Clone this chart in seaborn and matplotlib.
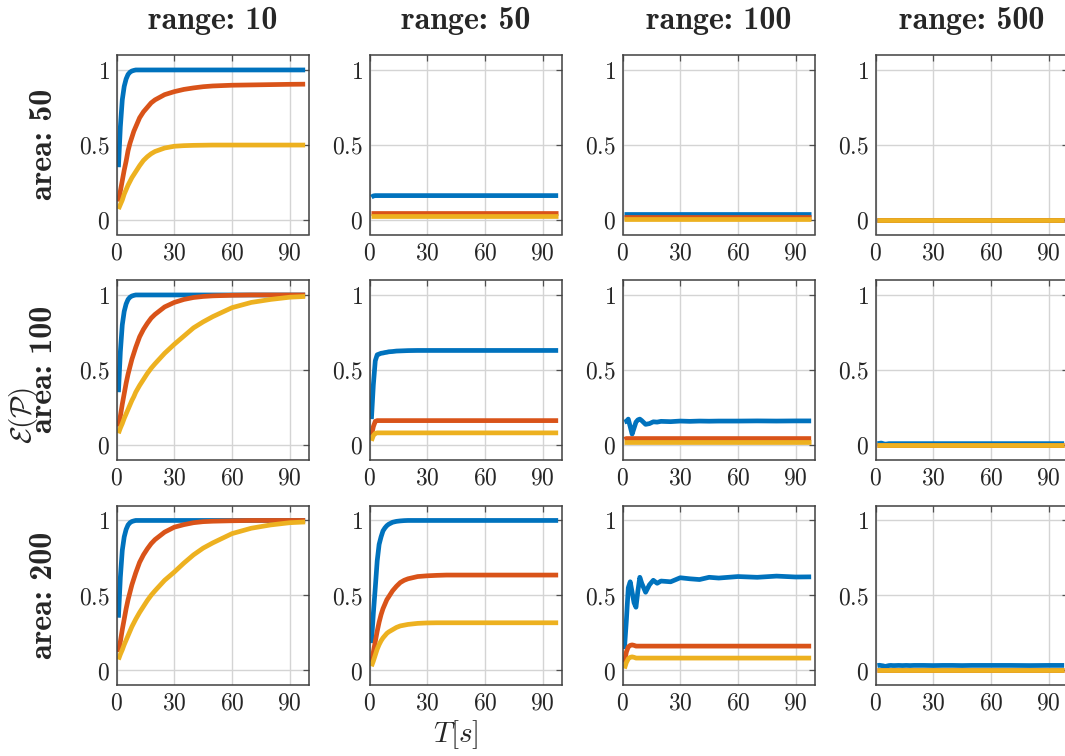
import matplotlib
matplotlib.use("Agg")
import matplotlib.pyplot as plt
import seaborn as sns
import pandas as pd

# time samples (s)
T = [1, 2, 3, 4, 5, 6, 7, 8, 9, 10, 12, 14, 16, 18, 20, 25, 30, 35, 40, 45, 50, 60, 70, 80, 90, 98]

ranges = [10, 50, 100, 500]
areas = [50, 100, 200]

# ---- area 50 ----
a50_r10_blue = [0.35, 0.62, 0.80, 0.89, 0.94, 0.97, 0.985, 0.993, 0.997, 1.0, 1.0, 1.0, 1.0, 1.0, 1.0, 1.0, 1.0, 1.0, 1.0, 1.0, 1.0, 1.0, 1.0, 1.0, 1.0, 1.0]
a50_r10_orange = [0.12, 0.19, 0.26, 0.33, 0.39, 0.46, 0.51, 0.55, 0.59, 0.62, 0.68, 0.72, 0.75, 0.78, 0.80, 0.835, 0.855, 0.87, 0.88, 0.888, 0.893, 0.898, 0.90, 0.902, 0.904, 0.905]
a50_r10_yellow = [0.07, 0.10, 0.13, 0.17, 0.20, 0.23, 0.255, 0.28, 0.30, 0.32, 0.36, 0.395, 0.42, 0.44, 0.455, 0.478, 0.49, 0.494, 0.496, 0.497, 0.498, 0.498, 0.498, 0.498, 0.498, 0.498]

a50_r50_blue = [0.15, 0.158, 0.16, 0.16, 0.16, 0.16, 0.16, 0.16, 0.16, 0.16, 0.16, 0.16, 0.16, 0.16, 0.16, 0.16, 0.16, 0.16, 0.16, 0.16, 0.16, 0.16, 0.16, 0.16, 0.16, 0.16]
a50_r50_orange = [0.045] * 26
a50_r50_yellow = [0.022] * 26

a50_r100_blue = [0.04] * 26
a50_r100_orange = [0.018] * 26
a50_r100_yellow = [0.005] * 26

a50_r500_blue = [0.0] * 26
a50_r500_orange = [0.0] * 26
a50_r500_yellow = [0.0] * 26

# ---- area 100 ----
a100_r10_blue = a50_r10_blue
a100_r10_orange = [0.12, 0.19, 0.27, 0.34, 0.41, 0.47, 0.52, 0.57, 0.61, 0.65, 0.72, 0.77, 0.81, 0.845, 0.87, 0.92, 0.95, 0.97, 0.983, 0.99, 0.994, 0.998, 1.0, 1.0, 1.0, 1.0]
a100_r10_yellow = [0.075, 0.11, 0.14, 0.175, 0.205, 0.235, 0.265, 0.295, 0.32, 0.35, 0.395, 0.435, 0.475, 0.51, 0.54, 0.61, 0.67, 0.725, 0.78, 0.82, 0.855, 0.915, 0.95, 0.97, 0.985, 0.99]

a100_r50_blue = [0.17, 0.40, 0.56, 0.60, 0.605, 0.61, 0.612, 0.615, 0.617, 0.62, 0.622, 0.625, 0.626, 0.627, 0.628, 0.629, 0.629, 0.629, 0.629, 0.629, 0.629, 0.629, 0.629, 0.629, 0.629, 0.629]
a100_r50_orange = [0.06, 0.12, 0.155, 0.16, 0.16, 0.16, 0.16, 0.16, 0.16, 0.16, 0.16, 0.16, 0.16, 0.16, 0.16, 0.16, 0.16, 0.16, 0.16, 0.16, 0.16, 0.16, 0.16, 0.16, 0.16, 0.16]
a100_r50_yellow = [0.025, 0.06, 0.075, 0.078, 0.078, 0.078, 0.078, 0.078, 0.078, 0.078, 0.078, 0.078, 0.078, 0.078, 0.078, 0.078, 0.078, 0.078, 0.078, 0.078, 0.078, 0.078, 0.078, 0.078, 0.078, 0.078]

a100_r100_blue = [0.15, 0.155, 0.17, 0.12, 0.07, 0.11, 0.15, 0.165, 0.17, 0.16, 0.135, 0.14, 0.152, 0.15, 0.155, 0.153, 0.157, 0.155, 0.157, 0.156, 0.157, 0.157, 0.158, 0.157, 0.158, 0.158]
a100_r100_orange = [0.035, 0.04, 0.04, 0.04, 0.04, 0.04, 0.04, 0.04, 0.04, 0.04, 0.04, 0.04, 0.04, 0.04, 0.04, 0.04, 0.04, 0.04, 0.04, 0.04, 0.04, 0.04, 0.04, 0.04, 0.04, 0.04]
a100_r100_yellow = [0.017] * 26

a100_r500_blue = [0.006, 0.008, 0.01, 0.006, 0.002, 0.004, 0.006, 0.006, 0.006, 0.006, 0.006, 0.006, 0.006, 0.006, 0.006, 0.006, 0.006, 0.006, 0.006, 0.006, 0.006, 0.006, 0.006, 0.006, 0.006, 0.006]
a100_r500_orange = [0.0] * 26
a100_r500_yellow = [0.0] * 26

# ---- area 200 ----
a200_r10_blue = a50_r10_blue
a200_r10_orange = [0.12, 0.19, 0.27, 0.34, 0.41, 0.47, 0.52, 0.57, 0.61, 0.65, 0.72, 0.77, 0.81, 0.845, 0.872, 0.922, 0.955, 0.972, 0.985, 0.992, 0.995, 0.998, 1.0, 1.0, 1.0, 1.0]
a200_r10_yellow = [0.07, 0.105, 0.135, 0.17, 0.20, 0.23, 0.26, 0.29, 0.315, 0.34, 0.385, 0.425, 0.465, 0.50, 0.53, 0.60, 0.655, 0.715, 0.77, 0.815, 0.85, 0.912, 0.948, 0.97, 0.985, 0.99]

a200_r50_blue = [0.18, 0.38, 0.55, 0.73, 0.84, 0.89, 0.93, 0.95, 0.965, 0.975, 0.988, 0.994, 0.997, 0.999, 1.0, 1.0, 1.0, 1.0, 1.0, 1.0, 1.0, 1.0, 1.0, 1.0, 1.0, 1.0]
a200_r50_orange = [0.05, 0.12, 0.19, 0.26, 0.32, 0.37, 0.41, 0.44, 0.47, 0.49, 0.53, 0.56, 0.585, 0.60, 0.61, 0.625, 0.63, 0.633, 0.635, 0.635, 0.635, 0.635, 0.635, 0.635, 0.635, 0.635]
a200_r50_yellow = [0.025, 0.06, 0.10, 0.14, 0.17, 0.195, 0.215, 0.23, 0.245, 0.255, 0.27, 0.285, 0.295, 0.30, 0.305, 0.312, 0.315, 0.316, 0.316, 0.316, 0.316, 0.316, 0.316, 0.316, 0.316, 0.316]

a200_r100_blue = [0.14, 0.33, 0.55, 0.59, 0.52, 0.45, 0.42, 0.53, 0.62, 0.58, 0.52, 0.57, 0.60, 0.58, 0.595, 0.59, 0.617, 0.61, 0.605, 0.62, 0.615, 0.625, 0.62, 0.628, 0.622, 0.623]
a200_r100_orange = [0.05, 0.12, 0.155, 0.165, 0.168, 0.165, 0.16, 0.16, 0.16, 0.16, 0.16, 0.16, 0.16, 0.16, 0.16, 0.16, 0.16, 0.16, 0.16, 0.16, 0.16, 0.16, 0.16, 0.16, 0.16, 0.16]
a200_r100_yellow = [0.01, 0.05, 0.075, 0.085, 0.088, 0.085, 0.08, 0.08, 0.08, 0.08, 0.08, 0.08, 0.08, 0.08, 0.08, 0.08, 0.08, 0.08, 0.08, 0.08, 0.08, 0.08, 0.08, 0.08, 0.08, 0.08]

a200_r500_blue = [0.03, 0.032, 0.03, 0.028, 0.024, 0.027, 0.03, 0.031, 0.03, 0.03, 0.031, 0.03, 0.031, 0.03, 0.031, 0.031, 0.03, 0.031, 0.031, 0.03, 0.031, 0.031, 0.031, 0.03, 0.031, 0.031]
a200_r500_orange = [0.003] * 26
a200_r500_yellow = [0.0] * 26

panels = [
    [(a50_r10_blue, a50_r10_orange, a50_r10_yellow),
     (a50_r50_blue, a50_r50_orange, a50_r50_yellow),
     (a50_r100_blue, a50_r100_orange, a50_r100_yellow),
     (a50_r500_blue, a50_r500_orange, a50_r500_yellow)],
    [(a100_r10_blue, a100_r10_orange, a100_r10_yellow),
     (a100_r50_blue, a100_r50_orange, a100_r50_yellow),
     (a100_r100_blue, a100_r100_orange, a100_r100_yellow),
     (a100_r500_blue, a100_r500_orange, a100_r500_yellow)],
    [(a200_r10_blue, a200_r10_orange, a200_r10_yellow),
     (a200_r50_blue, a200_r50_orange, a200_r50_yellow),
     (a200_r100_blue, a200_r100_orange, a200_r100_yellow),
     (a200_r500_blue, a200_r500_orange, a200_r500_yellow)],
]

colors = ["#0072BD", "#D95319", "#EDB120"]

sns.set_style("white")
plt.rcParams["mathtext.fontset"] = "cm"
plt.rcParams["font.family"] = ["DejaVu Serif"]

W, H = 1065, 756
fig = plt.figure(figsize=(W / 100, H / 100), dpi=100)

ax_left = [116.5, 369.5, 622.5, 875.5]
ax_top = [55, 280, 505.5]
ax_w, ax_h = 192.5, 179.5

tick_fs = 17
lab_fs = 23
# bold computer modern that ships with matplotlib
bold_font = ["cmb10", "DejaVu Serif"]

for i, area in enumerate(areas):
    for j, rng in enumerate(ranges):
        ax = fig.add_axes([ax_left[j] / W, 1 - (ax_top[i] + ax_h) / H, ax_w / W, ax_h / H])
        for vals, c in zip(panels[i][j], colors):
            df = pd.DataFrame({"t": T, "v": vals})
            sns.lineplot(data=df, x="t", y="v", color=c, linewidth=3.4, ax=ax,
                         solid_capstyle="butt")
        ax.set_xlim(0, 100)
        ax.set_ylim(-0.1, 1.1)
        ax.set_xticks([0, 30, 60, 90])
        ax.set_xticklabels(["$0$", "$30$", "$60$", "$90$"], fontsize=tick_fs)
        ax.set_yticks([0, 0.5, 1])
        ax.set_yticklabels(["$0$", "$0.5$", "$1$"], fontsize=tick_fs)
        ax.grid(True, color="#d4d4d4", linewidth=1.0)
        ax.set_axisbelow(True)
        ax.tick_params(direction="in", length=4, width=0.9, color="#505050",
                       top=True, right=True, pad=5)
        for s in ax.spines.values():
            s.set_color("#404040")
            s.set_linewidth(1.1)
        ax.set_xlabel("")
        ax.set_ylabel("")
        if i == 0:
            ax.set_title("range: %d" % rng, fontsize=lab_fs, family=bold_font, pad=19)
        if j == 0:
            fig.text(43 / W, 1 - (ax_top[i] + ax_h / 2) / H, "area: %d" % area,
                     rotation=90, ha="center", va="center", fontsize=lab_fs,
                     family=bold_font)

fig.text(24 / W, 1 - 415 / H, r"$\mathcal{E}(\mathcal{P})$", rotation=90,
         ha="center", va="center", fontsize=21)
fig.text(456 / W, 1 - 735 / H, r"$T[s]$", ha="center", va="center", fontsize=21)

fig.savefig("out.png", dpi=100)
